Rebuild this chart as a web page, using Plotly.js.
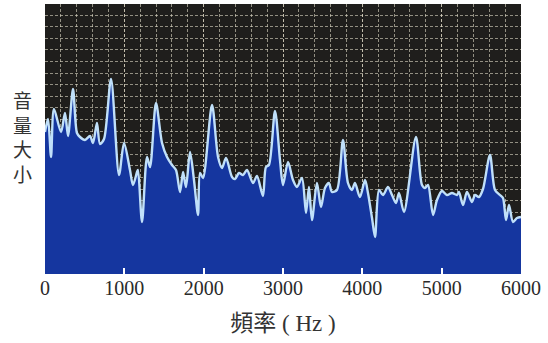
<!DOCTYPE html>
<html>
<head>
<meta charset="utf-8">
<script src="https://cdn.plot.ly/plotly-3.0.1.min.js"></script>
<style>html,body{margin:0;padding:0;background:#fff;}#chart{width:548px;height:343px;}</style>
</head>
<body>
<div id="chart"></div>
<script>
// Frequency (Hz) and relative loudness (arbitrary units)
const freqHz = [0,38,76,113,202,252,290,353,403,441,504,567,605,655,693,744,832,933,996,1071,1109,1160,1172,1223,1286,1324,1399,1475,1538,1601,1651,1702,1740,1777,1828,1878,1929,1954,1992,2105,2181,2231,2282,2357,2395,2445,2496,2546,2622,2672,2747,2785,2823,2899,2962,3000,3063,3126,3176,3239,3290,3327,3365,3428,3479,3529,3579,3617,3680,3756,3819,3869,3907,3970,4034,4071,4122,4160,4210,4260,4323,4374,4424,4462,4525,4676,4752,4790,4828,4891,4941,5004,5067,5130,5193,5218,5269,5319,5382,5420,5470,5521,5609,5672,5735,5773,5811,5849,5899,5949,6000];
const level = [142,155,117,165,142,161,138,185,141,137,134,138,131,151,130,135,195,99,131,104,89,102,104,52,117,107,171,131,117,109,104,82,102,87,122,94,59,101,96,169,117,106,116,97,95,101,99,104,91,98,78,107,109,163,114,89,112,94,87,96,61,87,54,91,67,86,91,82,84,134,91,84,91,77,94,81,56,37,84,79,87,79,71,81,62,137,89,86,89,59,74,83,79,81,79,82,69,82,72,79,77,85,119,84,79,76,54,69,52,56,57];
const xTickVals = [0,1000,2000,3000,4000,5000,6000];
const xTickText = ['0','1000','2000','3000','4000','5000','6000'];
const yTitle = ['音','量','大','小'];
const xTitle = '頻率 ( Hz )';

const trace = {
  x: freqHz, y: level, type: 'scatter', mode: 'lines',
  line: {shape: 'spline', smoothing: 0.8, color: '#c0e0fa', width: 2.4},
  fill: 'tozeroy', fillcolor: '#15369f', hoverinfo: 'skip'
};
const gridCol = 'rgba(225,220,200,0.6)';
const layout = {
  width: 548, height: 343,
  margin: {l: 45, r: 27, t: 4, b: 69},
  paper_bgcolor: '#ffffff', plot_bgcolor: '#1f1e1c',
  showlegend: false,
  xaxis: {
    range: [0, 6000], tickvals: xTickVals, ticktext: xTickText,
    ticks: 'inside', ticklen: 6, tickcolor: '#ffffff', tickwidth: 2,
    showgrid: true, gridcolor: gridCol, gridwidth: 1, griddash: '3px,2px',
    minor: {dtick: 200, tick0: 0, showgrid: true, gridcolor: gridCol, gridwidth: 1, griddash: '3px,2px', ticks: ''},
    zeroline: false, showline: false,
    tickfont: {family: 'Liberation Serif, serif', size: 20, color: '#2a2a2a'},
    title: {text: xTitle, font: {family: 'Liberation Serif, Noto Sans CJK TC, serif', size: 23, color: '#333'}, standoff: 16},
    fixedrange: true
  },
  yaxis: {
    range: [0, 270], tick0: 3.8, dtick: 11.6,
    showticklabels: false, ticks: '',
    showgrid: true, gridcolor: gridCol, gridwidth: 1, griddash: '3px,2px',
    zeroline: false, showline: false, fixedrange: true
  },
  annotations: [{
    text: yTitle.join('<br>'), xref: 'paper', yref: 'paper', x: -0.048, y: 0.51,
    xanchor: 'center', yanchor: 'middle', showarrow: false,
    font: {family: 'Noto Sans CJK TC, sans-serif', size: 19, color: '#333'}
  }]
};
Plotly.newPlot('chart', [trace], layout, {displayModeBar: false, staticPlot: true});
</script>
</body>
</html>
